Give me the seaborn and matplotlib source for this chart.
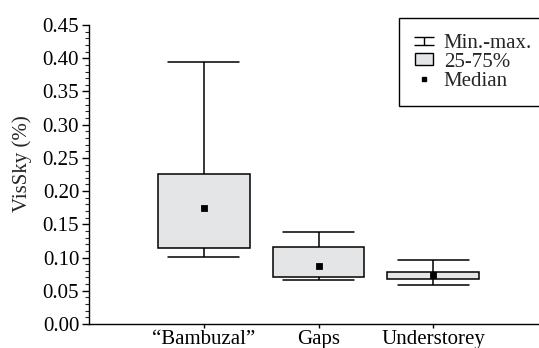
import pandas as pd
import numpy as np
import matplotlib
matplotlib.use('Agg')
import matplotlib.pyplot as plt
import seaborn as sns
from matplotlib.path import Path
from matplotlib.lines import Line2D
from matplotlib.patches import Patch
from matplotlib.ticker import MultipleLocator, FormatStrFormatter

# five-number summaries: min, q1, median, q3, max
sites = ['\u201cBambuzal\u201d', 'Gaps', 'Understorey']
bambuzal = [0.101, 0.114, 0.174, 0.226, 0.395]
gaps = [0.066, 0.071, 0.088, 0.116, 0.139]
understorey = [0.058, 0.067, 0.073, 0.079, 0.097]

# with 5 points, the linear percentiles give back exactly these quartiles
df = pd.DataFrame({
    'site': np.repeat(sites, 5),
    'vissky': bambuzal + gaps + understorey,
})

sns.set_style('ticks')
plt.rcParams['font.family'] = ['Liberation Serif', 'DejaVu Serif']
fs = 15

fig = plt.figure(figsize=(5.39, 3.48), dpi=100)
ax = fig.add_axes([0.165, 0.069, 0.835, 0.859])

box_fill = '#e4e5e7'
line_kw = {'color': 'black', 'linewidth': 1.1}
sns.boxplot(data=df, x='site', y='vissky', ax=ax, whis=(0, 100), width=0.8,
            color=box_fill, linecolor='black', linewidth=1.1, fliersize=0,
            boxprops={'facecolor': box_fill, 'edgecolor': 'black'},
            whiskerprops=line_kw, capprops=line_kw,
            medianprops={'visible': False}, capwidths=0.62)

# median shown as a small square
sns.pointplot(data=df, x='site', y='vissky', ax=ax, estimator=np.median,
              errorbar=None, linestyle='none', marker='s', markersize=3,
              color='black')

ax.set_xlim(-1, 2.92)
ax.set_ylim(0, 0.45)
ax.yaxis.set_major_locator(MultipleLocator(0.05))
ax.yaxis.set_minor_locator(MultipleLocator(0.01))
ax.yaxis.set_major_formatter(FormatStrFormatter('%.2f'))
ax.tick_params(axis='y', which='major', length=5, width=1, labelsize=fs, pad=2, colors='black')
ax.tick_params(axis='y', which='minor', length=3, width=0.8)
ax.tick_params(axis='x', length=3, width=1, labelsize=fs, pad=1, colors='black')
ax.set_xlabel('')
ax.set_ylabel('VisSky (%)', fontsize=fs)
ax.yaxis.set_label_coords(-0.127, 0.535)
for side in ['top', 'right']:
    ax.spines[side].set_visible(False)
for side in ['left', 'bottom']:
    ax.spines[side].set_color('black')
    ax.spines[side].set_linewidth(1.0)

# legend with a whisker-cap icon, a box patch and a median square
cap_icon = Path([(-1, 0.45), (1, 0.45), (0, 0.45), (0, -0.45), (-1, -0.45), (1, -0.45)],
                [Path.MOVETO, Path.LINETO, Path.MOVETO, Path.LINETO, Path.MOVETO, Path.LINETO])
handles = [
    Line2D([], [], linestyle='none', marker=cap_icon, markersize=14,
           markerfacecolor='none', markeredgecolor='black', markeredgewidth=1.0),
    Patch(facecolor=box_fill, edgecolor='black', linewidth=1.0),
    Line2D([], [], linestyle='none', marker='s', markersize=3, color='black'),
]
labels = ['Min.-max.', '25-75%', 'Median']
leg = fig.legend(handles, labels, loc='upper right', bbox_to_anchor=(1.016, 0.948),
                 bbox_transform=fig.transFigure, fancybox=False, frameon=True,
                 edgecolor='black', framealpha=1, fontsize=fs, handlelength=0.9,
                 handletextpad=0.5, labelspacing=0.0, borderpad=0.75, handleheight=0.5,
                 borderaxespad=0)
leg.get_frame().set_linewidth(1.0)

plt.savefig('out.png', dpi=100)
